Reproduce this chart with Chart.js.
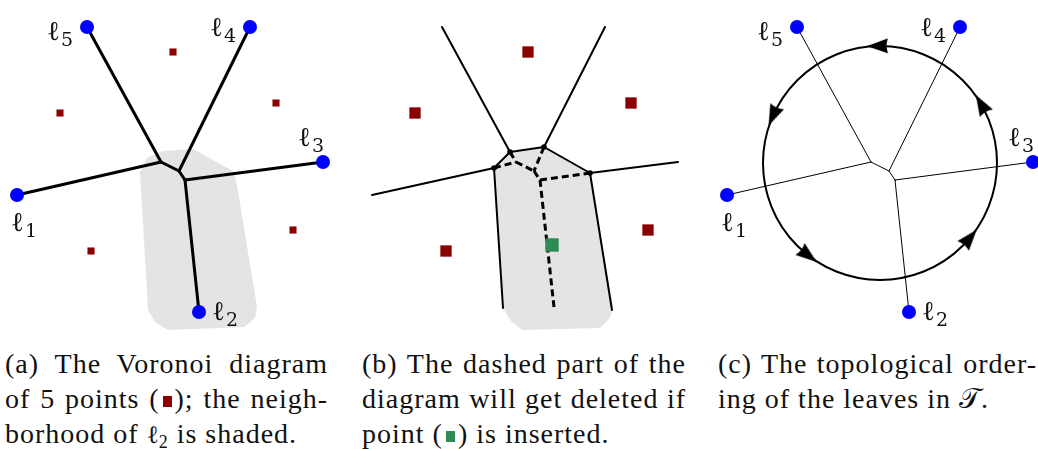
<!DOCTYPE html>
<html>
<head>
<meta charset="utf-8">
<script src="https://cdn.jsdelivr.net/npm/chart.js@4.4.0/dist/chart.umd.min.js"></script>
<style>
  html, body { margin: 0; padding: 0; background: #fff; }
  #wrap { position: relative; width: 1038px; height: 449px; overflow: hidden; }
  #fig { position: absolute; left: 0; top: 0; }
  .cap { position: absolute; top: 346px; font-family: "Liberation Serif", serif; font-size: 28px; line-height: 35px; letter-spacing: 1px; color: #111; }
  .cap div { text-align: justify; text-align-last: justify; }
  .cap div.last { text-align-last: left; }
  .ell { font-family: "DejaVu Serif", serif; font-size: 25px; letter-spacing: 0; }
  .cap sub { font-size: 18px; vertical-align: -5px; line-height: 0; }
  .sq { display: inline-block; width: 9px; height: 11px; vertical-align: 1px; margin: 0 3px; }
</style>
</head>
<body>
<div id="wrap">
  <canvas id="fig" width="1038" height="340"></canvas>
  <div class="cap" style="left:5px;width:323px">
    <div>(a) The Voronoi diagram</div>
    <div>of 5 points (<span class="sq" style="background:#8b0000"></span>); the neigh-</div>
    <div class="last">borhood of <span class="ell">ℓ</span><sub>2</sub> is shaded.</div>
  </div>
  <div class="cap" style="left:362px;width:324px">
    <div>(b) The dashed part of the</div>
    <div>diagram will get deleted if</div>
    <div class="last">point (<span class="sq" style="background:#2e8b57"></span>) is inserted.</div>
  </div>
  <div class="cap" style="left:718px;width:319px">
    <div>(c) The topological order-</div>
    <div class="last">ing of the leaves in 𝒯.</div>
  </div>
</div>
<script>
// ---------------------------------------------------------
// DATA (panel-local coordinates, same for every panel)
// ---------------------------------------------------------
// horizontal shift of panels (a), (b), (c)
const panelShift = [0, 355, 710];

// leaves l1..l5
const leafNames = ['1', '2', '3', '4', '5'];
const leafX = [17, 199, 323, 250, 87];
const leafY = [195, 312, 162, 27, 27];
// where each leaf label starts (left of the l, baseline)
const labelX = [11, 212, 298, 210, 47];
const labelY = [231, 320, 146, 36, 40];

// the 5 Voronoi sites (red squares)
const siteX = [173, 60, 276, 91, 293];
const siteY = [52, 113, 103, 251, 230];

// the inserted point of panel (b)
const newSiteX = [197];
const newSiteY = [245];

// named vertices of the diagrams
const vertexNames = ['L1', 'L2', 'L3', 'L4', 'L5', 'A', 'B', 'C', 'V1', 'V2', 'V3', 'V4', 'E1', 'E2', 'E3'];
const vertexX = [17, 199, 323, 250, 87, 161, 179, 185, 155, 189, 139, 235, 148, 257, 199];
const vertexY = [195, 312, 162, 27, 27, 162, 171, 180, 152, 147, 168, 173, 308, 310, 307];

// tree edges (panels a and c)
const treeEdges = [['L5', 'A'], ['L1', 'A'], ['A', 'B'], ['L4', 'B'], ['B', 'C'], ['C', 'L3'], ['C', 'L2']];
// new diagram of panel (b)
const newEdges = [['L5', 'V1'], ['L4', 'V2'], ['L1', 'V3'], ['L3', 'V4'], ['V3', 'V1'], ['V1', 'V2'], ['V2', 'V4'], ['V3', 'E1'], ['V4', 'E2']];
// the part that gets deleted (dashed)
const deletedEdges = [['V3', 'A'], ['V1', 'A'], ['A', 'B'], ['V2', 'B'], ['B', 'C'], ['C', 'V4'], ['C', 'E3']];
const newVertices = ['V1', 'V2', 'V3', 'V4'];

// shaded neighbourhoods (outline)
const shadeAX = [140, 147, 163, 193, 233, 237, 257, 255, 244, 168, 155, 148];
const shadeAY = [172, 158, 151, 149, 171, 185, 307, 318, 327, 330, 322, 310];
const shadeBX = [139, 155, 189, 235, 258, 255, 245, 167, 155, 148];
const shadeBY = [168, 152, 147, 173, 308, 318, 328, 330, 320, 308];

// circle of panel (c) and arrow positions (degrees, screen orientation)
const circleX = [170];
const circleY = [163];
const circleR = 117;
const arrowAngles = [-91, -156, 128, 40, -30];

// ---------------------------------------------------------
function vtx(panel, name) {
    const i = vertexNames.indexOf(name);
    return { x: panelShift[panel] + vertexX[i], y: vertexY[i] };
}

function edgeSets(panel, edges, width, dash) {
    return edges.map(e => ({
        data: [vtx(panel, e[0]), vtx(panel, e[1])],
        showLine: true,
        borderColor: '#000',
        borderWidth: width,
        borderDash: dash,
        borderCapStyle: dash.length ? 'butt' : 'round',
        pointRadius: 0,
        order: 2
    }));
}

function shadeSet(panel, xs, ys) {
    return {
        data: xs.map((x, i) => ({ x: panelShift[panel] + x, y: ys[i] })),
        showLine: true,
        fill: 'shape',
        backgroundColor: '#e4e4e4',
        borderColor: 'rgba(0,0,0,0)',
        borderWidth: 0,
        pointRadius: 0,
        order: 5
    };
}

function pointSet(panel, xs, ys, color, style, radius) {
    return {
        data: xs.map((x, i) => ({ x: panelShift[panel] + x, y: ys[i] })),
        pointStyle: style,
        pointRadius: radius,
        backgroundColor: color,
        borderWidth: 0,
        order: 0
    };
}

// arrow head drawn once, used as point style (points upward)
const arrowImg = document.createElement('canvas');
arrowImg.width = 32;
arrowImg.height = 32;
(function () {
    const c = arrowImg.getContext('2d');
    c.fillStyle = '#000';
    c.beginPath();
    c.moveTo(16, 5);
    c.lineTo(23.5, 26);
    c.quadraticCurveTo(16, 23, 8.5, 26);
    c.closePath();
    c.fill();
})();

const datasets = [];

// shading
datasets.push(shadeSet(0, shadeAX, shadeAY));
datasets.push(shadeSet(1, shadeBX, shadeBY));

// panel (a)
datasets.push(...edgeSets(0, treeEdges, 3, []));
datasets.push(pointSet(0, siteX, siteY, '#8b0000', 'rect', 5));
datasets.push(pointSet(0, leafX, leafY, '#0000ff', 'circle', 7));

// panel (b)
datasets.push(...edgeSets(1, newEdges, 2, []));
datasets.push(...edgeSets(1, deletedEdges, 3, [7, 4]));
datasets.push({
    data: newVertices.map(n => vtx(1, n)),
    pointRadius: 2.8,
    backgroundColor: '#000',
    borderWidth: 0,
    order: 0
});
datasets.push(pointSet(1, siteX, siteY, '#8b0000', 'rect', 8));
datasets.push(pointSet(1, newSiteX, newSiteY, '#2e8b57', 'rect', 9.5));

// panel (c)
datasets.push(...edgeSets(2, treeEdges, 1, []));
datasets.push({
    data: circleX.map((x, i) => ({ x: panelShift[2] + x, y: circleY[i] })),
    pointStyle: 'circle',
    pointRadius: circleR,
    backgroundColor: 'rgba(0,0,0,0)',
    borderColor: '#000',
    borderWidth: 2,
    order: 1
});
datasets.push({
    data: arrowAngles.map(a => ({
        x: panelShift[2] + circleX[0] + circleR * Math.cos(a * Math.PI / 180),
        y: circleY[0] + circleR * Math.sin(a * Math.PI / 180)
    })),
    pointStyle: arrowImg,
    rotation: arrowAngles,
    order: 0
});
datasets.push(pointSet(2, leafX, leafY, '#0000ff', 'circle', 7));

// leaf labels l_i in panels (a) and (c)
const leafLabels = {
    id: 'leafLabels',
    afterDatasetsDraw(chart) {
        const { ctx, scales: { x, y } } = chart;
        ctx.save();
        ctx.fillStyle = '#111';
        ctx.textBaseline = 'alphabetic';
        [0, 2].forEach(p => {
            leafNames.forEach((n, i) => {
                const px = x.getPixelForValue(panelShift[p] + labelX[i]);
                const py = y.getPixelForValue(labelY[i]);
                ctx.font = '27px "DejaVu Serif"';
                ctx.fillText('ℓ', px, py);
                const w = ctx.measureText('ℓ').width;
                ctx.font = '19px "DejaVu Serif"';
                ctx.fillText(n, px + w + 1, py + 6);
            });
        });
        ctx.restore();
    }
};

new Chart(document.getElementById('fig'), {
    type: 'scatter',
    data: { datasets: datasets },
    options: {
        responsive: false,
        animation: false,
        devicePixelRatio: 1,
        layout: { padding: 0, autoPadding: false },
        plugins: {
            legend: { display: false },
            tooltip: { enabled: false }
        },
        scales: {
            x: { type: 'linear', min: 0, max: 1038, display: false },
            y: { type: 'linear', min: 0, max: 340, reverse: true, display: false }
        }
    },
    plugins: [leafLabels]
});
</script>
</body>
</html>
